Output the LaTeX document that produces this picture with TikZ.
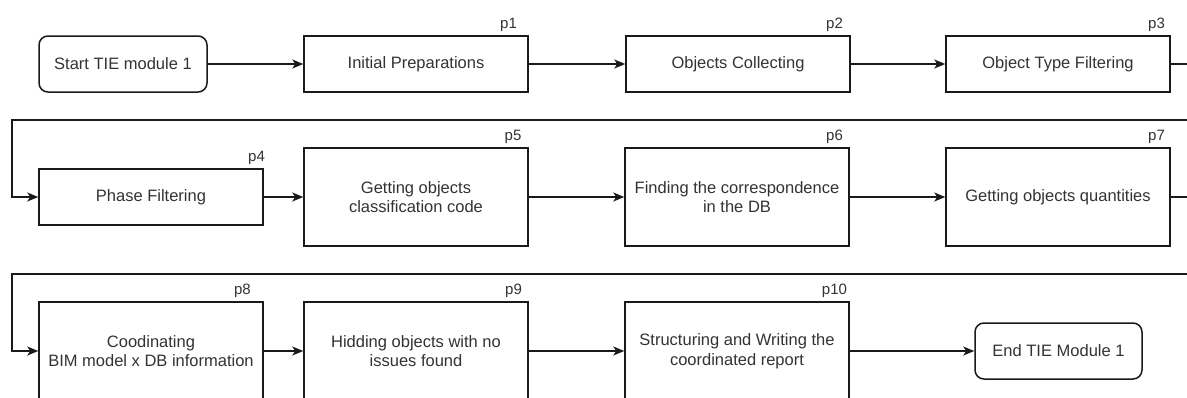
\documentclass[tikz,border=0pt]{standalone}
\usepackage{fontspec}
\setmainfont{Liberation Sans}
\usetikzlibrary{arrows.meta}
\definecolor{ink}{HTML}{1A1A1A}
\definecolor{txt}{HTML}{333333}
\tikzset{
  stepbox/.style={draw=ink, line width=1.5pt, rectangle, inner sep=0pt,
    minimum width=224pt, align=center, text=txt,
    font=\fontsize{16.5}{19.5}\selectfont},
  shortbox/.style={stepbox, minimum height=56pt},
  tallbox/.style={stepbox, minimum height=98pt},
  terminal/.style={stepbox, rounded corners=9pt, minimum height=56pt},
  plabel/.style={anchor=base, inner sep=0pt, text=txt,
    font=\fontsize{15}{17}\selectfont},
  flow/.style={draw=ink, line width=1.5pt,
    -{Stealth[length=11pt, width=9pt, inset=3pt]}}
}
\begin{document}
\begin{tikzpicture}[x=1pt, y=-1pt]
  \useasboundingbox (0,0) rectangle (1187,397);
  \clip (0,0) rectangle (1187,397);
  \fill[white] (0,0) rectangle (1187,397);

  % first row
  \node[terminal, minimum width=168pt] (start) at (123,64) {Start TIE module 1};
  \node[shortbox] (s1) at (416,64) {Initial Preparations};
  \node[shortbox] (s2) at (738,64) {Objects Collecting};
  \node[shortbox] (s3) at (1058,64) {Object Type Filtering};

  % second row
  \node[shortbox] (s4) at (151,197) {Phase Filtering};
  \node[tallbox] (s5) at (416,197) {Getting objects\\classification code};
  \node[tallbox] (s6) at (737,197) {Finding the correspondence\\in the DB};
  \node[tallbox] (s7) at (1058,197) {Getting objects quantities};

  % third row
  \node[tallbox] (s8) at (151,351) {Coodinating\\BIM model x DB information};
  \node[tallbox] (s9) at (416,351) {Hidding objects with no\\issues found};
  \node[tallbox] (s10) at (737,351) {Structuring and Writing the\\coordinated report};
  \node[terminal, minimum width=167pt] (end) at (1058.5,351) {End TIE Module 1};

  % step numbers
  \node[plabel] (p1) at (508.5,28) {p1};
  \node[plabel] (p2) at (834.5,28) {p2};
  \node[plabel] (p3) at (1156.5,28) {p3};
  \node[plabel] (p4) at (256.5,161) {p4};
  \node[plabel] (p5) at (513,140) {p5};
  \node[plabel] (p6) at (834.5,140) {p6};
  \node[plabel] (p7) at (1156.5,140) {p7};
  \node[plabel] (p8) at (242.5,294) {p8};
  \node[plabel] (p9) at (513.5,294) {p9};
  \node[plabel] (p10) at (834.5,294) {p10};

  % wrap-around turning points
  \coordinate (w1a) at (1200,64);
  \coordinate (w1b) at (1200,120);
  \coordinate (w1c) at (12,120);
  \coordinate (w2a) at (1200,197);
  \coordinate (w2b) at (1200,274);
  \coordinate (w2c) at (12,274);

  % connectors
  \draw[flow] (start) -- (s1);
  \draw[flow] (s1) -- (s2);
  \draw[flow] (s2) -- (s3);
  \draw[flow] (s3.east) -- (w1a) -- (w1b) -- (w1c) |- (s4.west);
  \draw[flow] (s4) -- (s5);
  \draw[flow] (s5) -- (s6);
  \draw[flow] (s6) -- (s7);
  \draw[flow] (s7.east) -- (w2a) -- (w2b) -- (w2c) |- (s8.west);
  \draw[flow] (s8) -- (s9);
  \draw[flow] (s9) -- (s10);
  \draw[flow] (s10) -- (end);
\end{tikzpicture}
\end{document}
